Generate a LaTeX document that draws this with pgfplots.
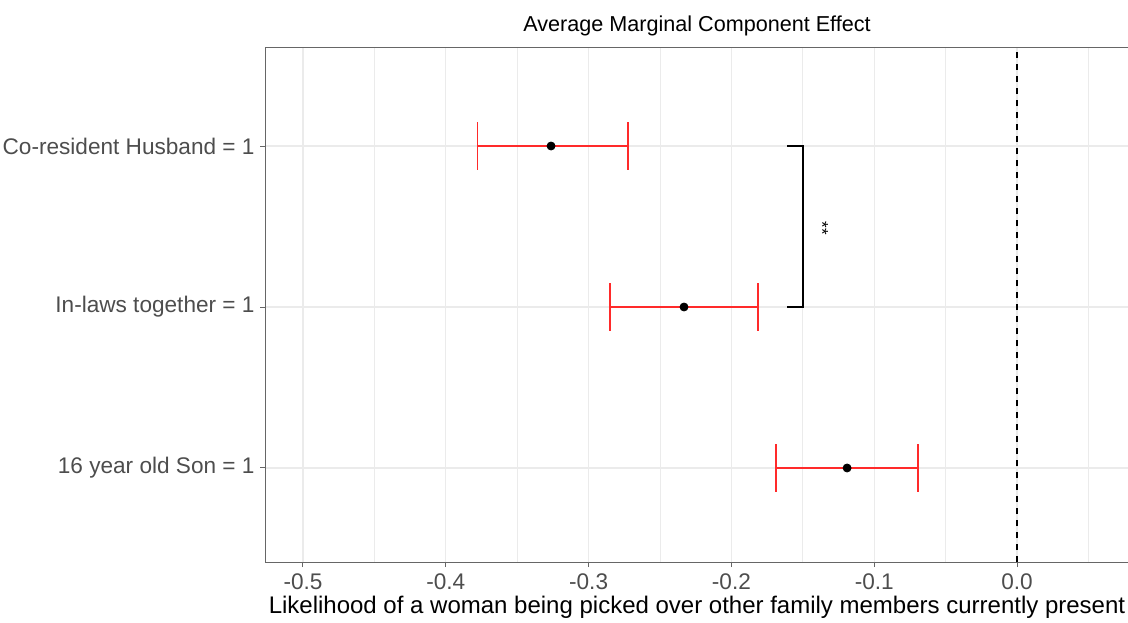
\documentclass[border=0pt]{standalone}
\usepackage{pgfplots}
\pgfplotsset{compat=1.18}
\usepackage{fontspec}
\setmainfont{Liberation Sans}
\definecolor{tickgray}{HTML}{4D4D4D}
\definecolor{gridgray}{HTML}{EBEBEB}
\definecolor{errred}{HTML}{FF2A2A}
\begin{document}
\begin{tikzpicture}
\useasboundingbox (0,0) rectangle (564pt,311pt);
\begin{axis}[
  at={(132.5pt,30pt)}, anchor=south west,
  scale only axis, width=432pt, height=257.5pt,
  xmin=-0.5266, xmax=0.0784, ymin=0.416, ymax=3.615,
  unbounded coords=jump,
  xtick={-0.5,-0.4,-0.3,-0.2,-0.1,0.0},
  xticklabels={-0.5,-0.4,-0.3,-0.2,-0.1,0.0},
  minor xtick={-0.45,-0.35,-0.25,-0.15,-0.05,0.05},
  ytick={1,2,3},
  yticklabels={16 year old Son = 1, In-laws together = 1, Co-resident Husband = 1},
  grid=both,
  major grid style={gridgray, line width=0.6pt},
  minor grid style={gridgray, line width=0.35pt},
  axis line style={gray!80!black, line width=0.5pt},
  tick align=outside, major tick length=2.5pt, minor tick length=0pt,
  tick style={gray!80!black, line width=0.5pt},
  xtick pos=bottom, ytick pos=left,
  ticklabel style={font=\fontsize{11.3}{13}\selectfont, text=tickgray},
  yticklabel style={xshift=0.8pt},
  /pgf/number format/assume math mode=true,
  xlabel={Likelihood of a woman being picked over other family members currently present},
  xlabel style={font=\fontsize{12}{14}\selectfont, yshift=4pt},
  title={Average Marginal Component Effect},
  title style={font=\fontsize{10.8}{12}\selectfont, yshift=-4pt},
  clip=false,
]
\addplot[black, dashed, line width=0.6pt] coordinates {(0,0.416) (0,3.615)};
% error bars (horizontal segments)
\addplot[errred, line width=0.7pt] coordinates {
  (-0.3780,3) (-0.2724,3)
  (nan,nan)
  (-0.2850,2) (-0.1814,2)
  (nan,nan)
  (-0.1688,1) (-0.0693,1)
};
% caps
\addplot[errred, line width=0.7pt] coordinates {
  (-0.3780,2.851) (-0.3780,3.149) (nan,nan)
  (-0.2724,2.851) (-0.2724,3.149) (nan,nan)
  (-0.2850,1.851) (-0.2850,2.149) (nan,nan)
  (-0.1814,1.851) (-0.1814,2.149) (nan,nan)
  (-0.1688,0.851) (-0.1688,1.149) (nan,nan)
  (-0.0693,0.851) (-0.0693,1.149)
};
\addplot[only marks, mark=*, mark size=2pt, black] coordinates {(-0.3263,3) (-0.2332,2) (-0.1190,1)};
\addplot[black, line width=0.8pt] coordinates {(-0.161,3) (-0.15,3) (-0.15,2) (-0.161,2)};
\node[rotate=-90, font=\fontsize{8.5}{9}\selectfont] at (axis cs:-0.1365,2.49) {**};
\end{axis}
\end{tikzpicture}
\end{document}
